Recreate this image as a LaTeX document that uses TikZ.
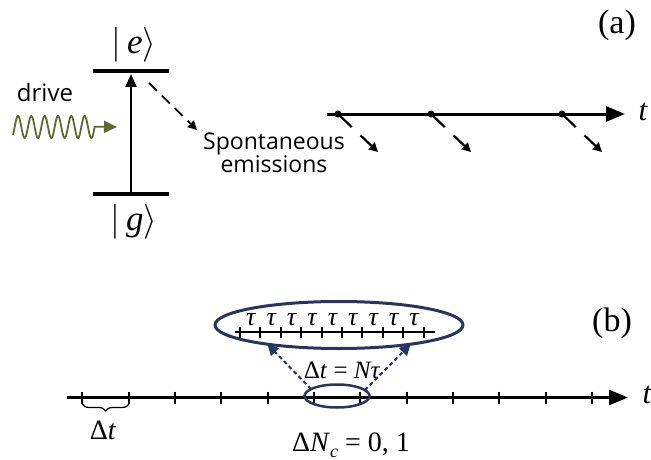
\documentclass[tikz,border=0pt]{standalone}
\usepackage{fix-cm}
\usepackage{fontspec}
\setmainfont{Liberation Serif}
\newfontfamily\osans{Open Sans}
\usetikzlibrary{arrows.meta,decorations.pathreplacing,shapes.geometric}
\definecolor{drivegreen}{HTML}{5B6B30}
\definecolor{ellnavy}{HTML}{27365F}
\begin{document}
\begin{tikzpicture}[x=1pt,y=-1pt,
  level/.style={line width=3.8pt},
  bigtip/.style={-{Triangle[length=19pt,width=15pt]}},
  smalltip/.style={-{Triangle[length=9pt,width=9pt]}},
  serif/.style={inner sep=0pt,font=\fontsize{#1}{#1}\selectfont},
  seriflt/.style={inner sep=0pt,font=\fontsize{#1}{#1}\selectfont\itshape},
  tick/.style={line width=2pt},
  ell/.style={draw=ellnavy,ellipse,inner sep=0pt,outer sep=0pt},
  dotted arrow/.style={ellnavy,line width=2pt,dash pattern=on 4pt off 3pt,-{Triangle[length=11pt,width=11pt]}}
]
\useasboundingbox (0,0) rectangle (651,460);

% ---------- (a) ----------
\node[serif=34] (alab) at (617,25) {(a)};
\node[serif=35] (elab) at (134,45) {$|$\,\textit{e}$\rangle$};
\node[serif=35] (glab) at (134,222) {$|$\,\textit{g}$\rangle$};
\coordinate (eL) at (93,71);  \coordinate (eR) at (169,71);
\coordinate (gL) at (93,194); \coordinate (gR) at (169,194);
\draw[level] (eL) -- (eR);
\draw[level] (gL) -- (gR);
\coordinate (gmid) at (131,194); \coordinate (emid) at (131,74);
\draw[line width=2.2pt,-{Triangle[length=13pt,width=11pt]}] (gmid) -- (emid);

\node[inner sep=0pt,font=\osans\fontsize{24}{24}\selectfont] (drive) at (45,92.5) {drive};
\coordinate (wtip) at (117,127);
\draw[drivegreen,line width=1.8pt,-{Triangle[length=13pt,width=12pt]}]
  plot[domain=13:94.7,samples=160,smooth] (\x,{127-11*cos((\x-18)/13.33*360)}) -- (wtip);

\coordinate (em1) at (149,83); \coordinate (em2) at (197,130);
\draw[line width=1.8pt,dash pattern=on 11pt off 7pt,smalltip] (em1) -- (em2);
\node[inner sep=0pt,align=center,font=\osans\fontsize{23}{20}\selectfont] (spont) at (274,152.5) {Spontaneous\\emissions};

\coordinate (axa0) at (327,114); \coordinate (axa1) at (625,114);
\draw[line width=3pt,bigtip] (axa0) -- (axa1);
\node[seriflt=31] (ta) at (643,112) {t};
\foreach \x/\n in {338/d1,431/d2,562/d3}{
  \node[circle,fill,inner sep=0pt,minimum size=7pt] (\n) at (\x,114) {};
  \draw[line width=2.2pt,dash pattern=on 19pt off 12pt,smalltip] (\n.center) -- ++(40,38);
}

% ---------- (b) ----------
\node[serif=34] (blab) at (612,323) {(b)};
\coordinate (axb0) at (67,397.5); \coordinate (axb1) at (628,397.5);
\draw[line width=2.6pt,bigtip] (axb0) -- (axb1);
\node[seriflt=31] (tb) at (647,395) {t};
\foreach \i in {0,...,11}{
  \draw[tick] ({82.3+46.34*\i},391.5) -- ++(0,12);
}
\coordinate (brA) at (129,404); \coordinate (brB) at (82.3,404);
\draw[line width=1.2pt,decorate,decoration={brace,amplitude=7pt}] (brA) -- (brB);
\node[serif=28] (dtlab) at (103,430) {Δ\textit{t}};
\node[serif=28] (nclab) at (351,445) {Δ\textit{N}\raisebox{-6pt}{\fontsize{18}{18}\selectfont\textit{c}} = 0,\ 1};

\node[ell,line width=2.5pt,minimum width=65pt,minimum height=23pt] (small) at (337,396) {};
\node[ell,line width=3pt,minimum width=248pt,minimum height=47pt] (big) at (339,325) {};

\coordinate (in0) at (235,332); \coordinate (in1) at (435,332);
\draw[line width=2.5pt] (in0) -- (in1);
\foreach \i in {0,...,9}{
  \draw[tick] ({240+20.4*\i},326.5) -- ++(0,11);
}
\foreach \i in {0,...,8}{
  \node[seriflt=26] (tau\i) at ({250.8+20.4*\i},320) {τ};
}
\node[serif=25] (ntau) at (342,370) {Δ\textit{t} = \textit{Nτ}};

\draw[dotted arrow] (small.165) -- (big.195);
\draw[dotted arrow] (small.12) -- (big.-15);
\end{tikzpicture}
\end{document}
